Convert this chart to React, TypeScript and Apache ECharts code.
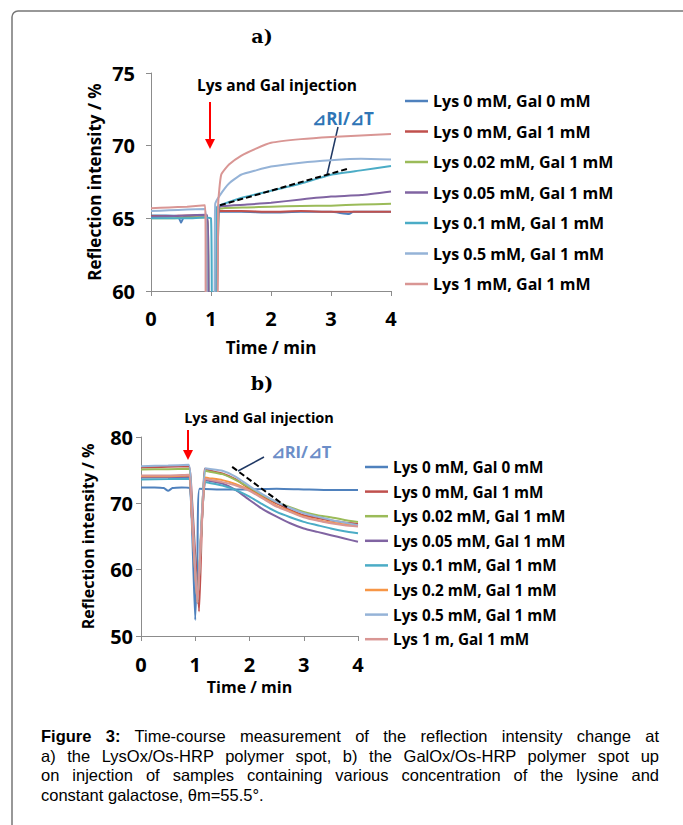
import React, { useEffect, useRef } from "react";
import * as echarts from "echarts";

// ---------- Panel a data (time in min, reflection intensity in %) ----------
const namesA = [
  "Lys 0 mM, Gal 0 mM",
  "Lys 0 mM, Gal 1 mM",
  "Lys 0.02 mM, Gal 1 mM",
  "Lys 0.05 mM, Gal 1 mM",
  "Lys 0.1 mM, Gal 1 mM",
  "Lys 0.5 mM, Gal 1 mM",
  "Lys 1 mM, Gal 1 mM",
];
const colorsA = ["#4F81BD", "#C0504D", "#9BBB59", "#8064A2", "#4BACC6", "#95B3D7", "#D99694"];

const aLys0Gal0 = [[0, 65.2], [0.25, 65.2], [0.45, 65.15], [0.5, 64.7], [0.55, 65.1], [0.75, 65.2], [0.93, 65.2], [0.97, 58], [1.07, 58], [1.11, 65.3], [1.13, 65.45], [1.5, 65.45], [2, 65.4], [2.5, 65.45], [3, 65.45], [3.3, 65.3], [3.37, 65.45], [3.7, 65.45], [4, 65.45]];
const aLys0Gal1 = [[0, 65.15], [0.3, 65.15], [0.6, 65.2], [0.93, 65.2], [0.96, 58], [1.08, 58], [1.12, 65.5], [1.5, 65.5], [2, 65.45], [2.5, 65.5], [3, 65.45], [3.5, 65.45], [4, 65.45]];
const aLys002 = [[0, 65.0], [0.3, 65.0], [0.6, 65.05], [0.93, 65.05], [0.97, 58], [1.08, 58], [1.13, 65.6], [1.2, 65.7], [1.6, 65.75], [2, 65.8], [2.5, 65.85], [3, 65.87], [3.5, 65.95], [4, 66.0]];
const aLys005 = [[0, 65.1], [0.3, 65.15], [0.6, 65.2], [0.93, 65.25], [0.97, 58], [1.08, 58], [1.13, 65.75], [1.2, 65.85], [1.6, 65.95], [2, 66.07], [2.5, 66.3], [3, 66.5], [3.5, 66.6], [4, 66.85]];
const aLys01 = [[0, 65.0], [0.3, 65.0], [0.6, 65.0], [0.9, 65.05], [1.0, 65.0], [1.02, 58], [1.08, 58], [1.1, 65.8], [1.15, 65.9], [1.5, 66.4], [2, 66.9], [2.5, 67.4], [3, 68.0], [3.5, 68.3], [4, 68.6]];
const aLys05 = [[0, 65.5], [0.3, 65.55], [0.6, 65.6], [0.9, 65.65], [0.94, 58], [1.05, 58], [1.07, 66.0], [1.15, 66.6], [1.3, 67.4], [1.5, 68.0], [1.75, 68.3], [2, 68.56], [2.5, 68.83], [3, 69.0], [3.5, 69.1], [4, 69.05]];
const aLys1 = [[0, 65.7], [0.3, 65.75], [0.6, 65.8], [0.9, 65.9], [0.92, 58], [1.1, 58], [1.12, 66.0], [1.17, 68.0], [1.3, 68.7], [1.5, 69.3], [1.75, 69.8], [2, 70.2], [2.5, 70.45], [3, 70.6], [3.5, 70.7], [4, 70.8]];
const seriesA = [aLys0Gal0, aLys0Gal1, aLys002, aLys005, aLys01, aLys05, aLys1];
const slopeA = [[1.15, 65.9], [3.27, 68.4]];

// ---------- Panel b data ----------
const namesB = [
  "Lys 0 mM, Gal 0 mM",
  "Lys 0 mM, Gal 1 mM",
  "Lys 0.02 mM, Gal 1 mM",
  "Lys 0.05 mM, Gal 1 mM",
  "Lys 0.1 mM, Gal 1 mM",
  "Lys 0.2 mM, Gal 1 mM",
  "Lys 0.5 mM, Gal 1 mM",
  "Lys 1 m, Gal 1 mM",
];
const colorsB = ["#4F81BD", "#C0504D", "#9BBB59", "#8064A2", "#4BACC6", "#F79646", "#95B3D7", "#D99694"];

const bLys0Gal0 = [[0, 72.4], [0.25, 72.4], [0.42, 72.3], [0.5, 71.9], [0.58, 72.3], [0.75, 72.4], [0.9, 72.3], [0.95, 64], [1.0, 52.4], [1.04, 62], [1.08, 72.2], [1.5, 72.1], [2, 72.1], [2.5, 72.2], [3, 72.1], [3.5, 72.0], [4, 72.0]];
const bLys0Gal1 = [[0, 75.4], [0.5, 75.5], [0.88, 75.6], [0.93, 72], [1.07, 53.7], [1.12, 66], [1.17, 75.2], [1.25, 75.0], [1.5, 74.5], [1.75, 73.6], [2, 72.2], [2.25, 71.0], [2.5, 70.0], [2.75, 69.0], [3, 68.2], [3.25, 67.8], [3.5, 67.4], [3.75, 67.1], [4, 66.9]];
const bLys002 = [[0, 75.1], [0.5, 75.15], [0.88, 75.2], [0.93, 70], [1.04, 55], [1.12, 68], [1.18, 74.9], [1.25, 74.8], [1.5, 74.4], [1.75, 73.5], [2, 72.4], [2.25, 71.2], [2.5, 70.2], [2.75, 69.4], [3, 68.7], [3.25, 68.2], [3.5, 67.9], [3.75, 67.5], [4, 67.2]];
const bLys005 = [[0, 73.9], [0.5, 73.95], [0.88, 74.0], [0.93, 69], [1.04, 55], [1.12, 67], [1.18, 73.5], [1.25, 73.4], [1.5, 73.0], [1.75, 72.0], [2, 70.5], [2.25, 69.1], [2.5, 68.0], [2.75, 67.0], [3, 66.2], [3.25, 65.7], [3.5, 65.2], [3.75, 64.7], [4, 64.2]];
const bLys01 = [[0, 73.6], [0.5, 73.65], [0.88, 73.7], [0.93, 69], [1.04, 55], [1.12, 67], [1.18, 73.2], [1.25, 73.1], [1.5, 72.7], [1.75, 72.0], [2, 71.0], [2.25, 69.8], [2.5, 68.7], [2.75, 67.9], [3, 67.2], [3.25, 66.7], [3.5, 66.2], [3.75, 65.8], [4, 65.5]];
const bLys02 = [[0, 74.1], [0.5, 74.1], [0.88, 74.2], [0.93, 69], [1.04, 55], [1.12, 67], [1.18, 73.9], [1.25, 73.8], [1.5, 73.5], [1.75, 72.9], [2, 72.0], [2.25, 70.8], [2.5, 69.6], [2.75, 68.8], [3, 68.0], [3.25, 67.5], [3.5, 67.1], [3.75, 66.8], [4, 66.6]];
const bLys05 = [[0, 75.6], [0.5, 75.7], [0.88, 75.8], [0.93, 71], [1.04, 55], [1.12, 68], [1.18, 75.3], [1.25, 75.2], [1.5, 74.9], [1.75, 74.0], [2, 72.6], [2.25, 71.3], [2.5, 70.2], [2.75, 69.3], [3, 68.5], [3.25, 68.0], [3.5, 67.5], [3.75, 67.1], [4, 66.7]];
const bLys1 = [[0, 74.2], [0.5, 74.2], [0.88, 74.3], [0.93, 69], [1.04, 55], [1.12, 67], [1.18, 73.7], [1.25, 73.6], [1.5, 73.2], [1.75, 72.7], [2, 71.9], [2.25, 70.7], [2.5, 69.5], [2.75, 68.7], [3, 67.9], [3.25, 67.4], [3.5, 67.0], [3.75, 66.7], [4, 66.5]];
const seriesB = [bLys0Gal0, bLys0Gal1, bLys002, bLys005, bLys01, bLys02, bLys05, bLys1];
const slopeB = [[1.68, 75.5], [2.69, 69.4]];

const captionLines = [
  "Time-course measurement of the reflection intensity change at",
  "a) the LysOx/Os-HRP polymer spot, b) the GalOx/Os-HRP polymer spot up",
  "on injection of samples containing various concentration of the lysine and",
  "constant galactose, θm=55.5°.",
];

const FONT = "Open Sans";

function arrow(x: number, y1: number, y2: number) {
  return {
    type: "group",
    children: [
      { type: "line", shape: { x1: x, y1, x2: x, y2: y2 - 8 }, style: { stroke: "#FF0000", lineWidth: 2 } },
      { type: "polygon", shape: { points: [[x - 5, y2 - 10], [x + 5, y2 - 10], [x, y2]] }, style: { fill: "#FF0000" } },
    ],
  };
}

export default function App() {
  const ref = useRef<HTMLDivElement>(null);
  useEffect(() => {
    if (!ref.current) return;
    const chart = echarts.init(ref.current, undefined, { renderer: "svg" });
    const axisCommon = {
      axisLine: { show: true, lineStyle: { color: "#8C8C8C", width: 1 } },
      axisTick: { show: true, length: 5, lineStyle: { color: "#8C8C8C" } },
      splitLine: { show: false },
    };
    const tickLabel = (margin: number) => ({ fontFamily: FONT, fontWeight: "bold", fontSize: 20, color: "#000", margin });
    const nameStyle = (fs: number) => ({ fontFamily: FONT, fontWeight: "bold", fontSize: fs, color: "#000" });
    const lineSeries = (names: string[], colors: string[], data: number[][][], idx: number) =>
      data.map((d, i) => ({
        type: "line",
        name: names[i],
        xAxisIndex: idx,
        yAxisIndex: idx,
        data: d,
        symbol: "none",
        smooth: 0.15,
        color: colors[i],
        itemStyle: { color: colors[i] },
        lineStyle: { width: 2, color: colors[i] },
        clip: true,
      }));
    const option: any = {
      animation: false,
      grid: [
        { left: 151, top: 73, width: 240, height: 218 },
        { left: 141, top: 437, width: 217, height: 199 },
      ],
      xAxis: [
        {
          gridIndex: 0, type: "value", min: 0, max: 4, interval: 1, ...axisCommon,
          axisLabel: tickLabel(17),
          name: "Time / min", nameLocation: "middle", nameGap: 48, nameTextStyle: nameStyle(17),
        },
        {
          gridIndex: 1, type: "value", min: 0, max: 4, interval: 1, ...axisCommon,
          axisLabel: tickLabel(18),
          name: "Time / min", nameLocation: "middle", nameGap: 43, nameTextStyle: nameStyle(16),
        },
      ],
      yAxis: [
        {
          gridIndex: 0, type: "value", min: 60, max: 75, interval: 5, ...axisCommon,
          axisLabel: tickLabel(16),
          name: "Reflection intensity / %", nameLocation: "middle", nameGap: 48, nameTextStyle: nameStyle(17),
        },
        {
          gridIndex: 1, type: "value", min: 50, max: 80, interval: 10, ...axisCommon,
          axisLabel: tickLabel(8),
          name: "Reflection intensity / %", nameLocation: "middle", nameGap: 45, nameTextStyle: nameStyle(16),
        },
      ],
      legend: [
        {
          data: namesA, orient: "vertical", left: 405, top: 93, padding: 0, icon: "rect",
          itemWidth: 23, itemHeight: 2.5, itemGap: 14.5,
          textStyle: { fontFamily: FONT, fontWeight: "bold", fontSize: 16, color: "#000", lineHeight: 16 },
        },
        {
          data: namesB, orient: "vertical", left: 365, top: 459, padding: 0, icon: "rect",
          itemWidth: 23, itemHeight: 2.5, itemGap: 8.6,
          textStyle: { fontFamily: FONT, fontWeight: "bold", fontSize: 15.3, color: "#000", lineHeight: 16 },
        },
      ],
      series: [
        ...lineSeries(namesA, colorsA, seriesA, 0),
        { type: "line", name: "slopeA", xAxisIndex: 0, yAxisIndex: 0, data: slopeA, symbol: "none", lineStyle: { color: "#000", width: 2, type: [6, 3] }, z: 5 },
        ...lineSeries(namesB, colorsB, seriesB, 1),
        { type: "line", name: "slopeB", xAxisIndex: 1, yAxisIndex: 1, data: slopeB, symbol: "none", lineStyle: { color: "#000", width: 2, type: [6, 3] }, z: 5 },
      ],
      graphic: [
        { type: "rect", shape: { x: 12, y: 11, width: 700, height: 840, r: 6 }, style: { fill: "none", stroke: "#777", lineWidth: 1.5 } },
        { type: "text", x: 262, y: 36, style: { text: "a)", fontFamily: "DejaVu Serif", fontWeight: "bold", fontSize: 19, fill: "#000", align: "center", verticalAlign: "middle" } },
        { type: "text", x: 262, y: 383, style: { text: "b)", fontFamily: "DejaVu Serif", fontWeight: "bold", fontSize: 19, fill: "#000", align: "center", verticalAlign: "middle" } },
        { type: "text", x: 277, y: 85, style: { text: "Lys and Gal injection", fontFamily: FONT, fontWeight: "bold", fontSize: 15.5, fill: "#000", align: "center", verticalAlign: "middle" } },
        { type: "text", x: 259, y: 417, style: { text: "Lys and Gal injection", fontFamily: FONT, fontWeight: "bold", fontSize: 14.5, fill: "#000", align: "center", verticalAlign: "middle" } },
        arrow(210, 102, 149),
        arrow(188, 430, 460),
        { type: "text", x: 343, y: 118, style: { text: "⊿RI/⊿T", fontFamily: FONT, fontWeight: "bold", fontSize: 17, fill: "#2E75B6", align: "center", verticalAlign: "middle" } },
        { type: "line", shape: { x1: 338, y1: 127, x2: 327, y2: 175 }, style: { stroke: "#1F3864", lineWidth: 1.5 } },
        { type: "text", x: 301, y: 451, style: { text: "⊿RI/⊿T", fontFamily: FONT, fontWeight: "bold", fontSize: 16.5, fill: "#6C8EC8", align: "center", verticalAlign: "middle" } },
        { type: "line", shape: { x1: 264, y1: 457, x2: 238, y2: 471 }, style: { stroke: "#1F3864", lineWidth: 1.5 } },
      ],
    };
    chart.setOption(option);
    return () => chart.dispose();
  }, []);

  const just: React.CSSProperties = { textAlign: "justify", textAlignLast: "justify" };
  return (
    <div style={{ position: "absolute", left: 0, top: 0, width: 683, height: 825, overflow: "hidden", background: "#fff" }}>
      <div ref={ref} style={{ position: "absolute", left: 0, top: 0, width: 683, height: 825 }} />
      <div
        style={{
          position: "absolute", left: 41, top: 727, width: 618,
          fontFamily: "'Liberation Sans', Arial, sans-serif", fontSize: 16.5, lineHeight: "19.7px", color: "#000",
        }}
      >
        <div style={just}>
          <b>Figure 3:</b> {captionLines[0]}
        </div>
        <div style={just}>{captionLines[1]}</div>
        <div style={just}>{captionLines[2]}</div>
        <div style={{ textAlign: "left" }}>{captionLines[3]}</div>
      </div>
    </div>
  );
}
